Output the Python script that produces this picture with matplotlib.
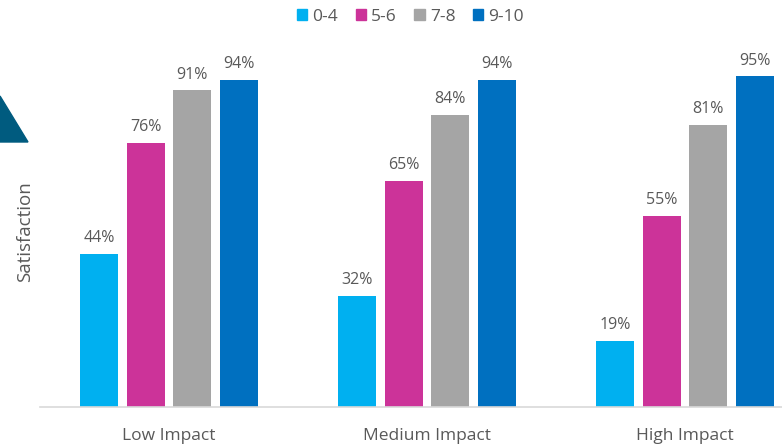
import numpy as np
import matplotlib.pyplot as plt
from matplotlib.patches import Polygon, Patch

plt.rcParams['font.family'] = ['Open Sans', 'DejaVu Sans']

groups = ['Low Impact', 'Medium Impact', 'High Impact']
series = ['0-4', '5-6', '7-8', '9-10']
values = {
    '0-4': [44, 32, 19],
    '5-6': [76, 65, 55],
    '7-8': [91, 84, 81],
    '9-10': [94, 94, 95],
}
colors = ['#00B0F0', '#CC3399', '#A5A5A5', '#0070C0']
text_col = '#595959'

fig = plt.figure(figsize=(7.82, 4.45), dpi=100)
ax = fig.add_axes([40 / 782, 1 - 407 / 445, 742 / 782, 348 / 445])

x = np.arange(len(groups))
width = 0.147
step = 0.181
for i, (s, c) in enumerate(zip(series, colors)):
    pos = x + (i - 1.5) * step
    vals = np.array(values[s]) / 100
    ax.bar(pos, vals, width=width, color=c, label=s)
    for px, v in zip(pos, values[s]):
        ax.text(px, v / 100 + 0.022, f'{v}%', ha='center', va='bottom',
                fontsize=11.5, color=text_col)

ax.set_xlim(-0.5, 2.376)
ax.set_ylim(0, 1)
ax.set_xticks(x)
ax.set_xticklabels(groups, fontsize=12.5, color=text_col)
ax.tick_params(axis='x', length=0, pad=15)
ax.set_yticks([])
for side in ['top', 'right', 'left']:
    ax.spines[side].set_visible(False)
ax.spines['bottom'].set_color('#D9D9D9')
ax.spines['bottom'].set_linewidth(1.2)

fig.text(25 / 782, 1 - 232 / 445, 'Satisfaction', rotation=90, ha='center',
         va='center', fontsize=13.5, color=text_col)

handles = [Patch(color=c) for c in colors]
fig.legend(handles, series, loc='upper center', bbox_to_anchor=(0.525, 1.015),
           ncol=4, frameon=False, fontsize=12.5, handlelength=0.6,
           handleheight=0.6, handletextpad=0.3, columnspacing=1.0,
           labelcolor=text_col)

# small corner triangle on the left edge
tri = Polygon([(0, 1 - 96 / 445), (28 / 782, 1 - 142 / 445), (0, 1 - 142 / 445)],
              closed=True, transform=fig.transFigure, color='#005B7F')
fig.patches.append(tri)

fig.savefig('out.png', dpi=100)
